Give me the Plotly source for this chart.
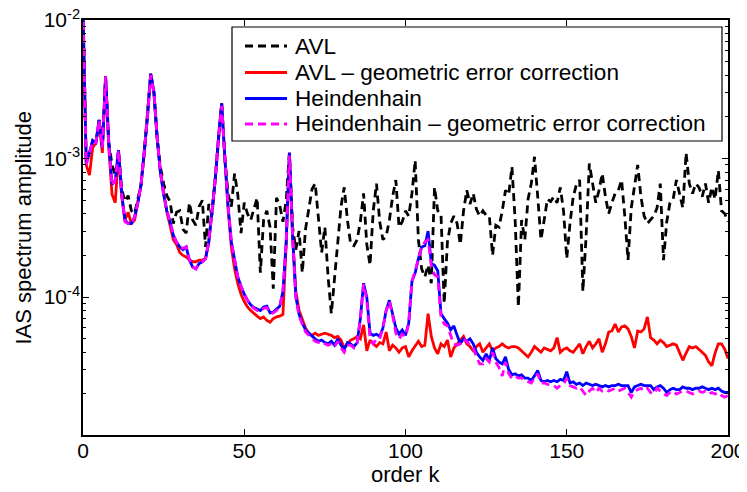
import plotly.graph_objects as go

# order k
order_k = list(range(0, 201))

# AVL (black dashed)
avl = [
    1.2e-2, 9.5e-4, 1.1e-3, 1.35e-3, 1.3e-3, 1.9e-3, 1.2e-3, 3.9e-3, 1.3e-3, 9.0e-4,
    7.5e-4, 1.15e-3, 6.0e-4, 4.9e-4, 5.4e-4, 4.2e-4, 4.0e-4, 5.0e-4, 6.5e-4, 1.1e-3,
    2.0e-3, 4.1e-3, 3.0e-3, 1.4e-3, 8.7e-4, 6.6e-4, 5.4e-4, 4.9e-4, 3.4e-4, 4.1e-4,
    4.2e-4, 3.1e-4, 2.9e-4, 4.8e-4, 3.6e-4, 3.3e-4, 4.5e-4, 5.0e-4, 2.3e-4, 4.7e-4,
    3.9e-4, 7.5e-4, 1.4e-3, 2.5e-3, 1.0e-3, 5.5e-4, 4.5e-4, 7.8e-4, 5.5e-4, 2.9e-4,
    4.8e-4, 4.0e-4, 3.6e-4, 4.4e-4, 5.2e-4, 1.5e-4, 3.6e-4, 4.2e-4, 3.2e-4, 1.15e-4,
    5.2e-4, 4.6e-4, 3.5e-4, 5.0e-4, 1.1e-3, 3.2e-4, 2.2e-4, 3.0e-4, 1.5e-4, 3.1e-4,
    4.5e-4, 6.0e-4, 6.6e-4, 3.5e-4, 2.1e-4, 3.2e-4, 1.4e-4, 7.6e-5, 1.4e-4, 2.4e-4,
    4.5e-4, 6.2e-4, 3.6e-4, 2.4e-4, 2.35e-4, 2.6e-4, 3.5e-4, 5.6e-4, 2.4e-4, 1.7e-4,
    4.2e-4, 6.6e-4, 3.5e-4, 2.6e-4, 2.75e-4, 3.6e-4, 5.3e-4, 7.0e-4, 3.2e-4, 3.5e-4,
    4.2e-4, 3.85e-4, 5.6e-4, 9.7e-4, 2.6e-4, 1.6e-4, 1.4e-4, 1.7e-4, 1.26e-4, 6.2e-4,
    4.2e-4, 4.0e-4, 9.0e-5, 2.5e-4, 3.4e-4, 3.85e-4, 3.4e-4, 2.4e-4, 4.2e-4, 5.9e-4,
    4.7e-4, 5.6e-4, 4.3e-4, 3.85e-4, 4.2e-4, 3.9e-4, 3.85e-4, 2.0e-4, 3.3e-4, 3.2e-4,
    4.2e-4, 5.9e-4, 5.5e-4, 8.7e-4, 3.6e-4, 8.5e-5, 3.6e-4, 2.6e-4, 5.1e-4, 6.6e-4,
    1.03e-3, 5.3e-4, 2.6e-4, 3.6e-4, 5.1e-4, 4.9e-4, 5.3e-4, 4.8e-4, 6.2e-4, 4.2e-4,
    1.9e-4, 3.4e-4, 5.3e-4, 6.5e-4, 7.0e-4, 1.1e-4, 2.75e-4, 9.2e-4, 6.6e-4, 4.8e-4,
    5.9e-4, 7.8e-4, 5.3e-4, 4.0e-4, 4.8e-4, 5.6e-4, 5.9e-4, 7.0e-4, 3.85e-4, 1.85e-4,
    4.4e-4, 6.6e-4, 9.0e-4, 5.3e-4, 3.85e-4, 3.4e-4, 3.6e-4, 3.85e-4, 4.4e-4, 6.6e-4,
    1.85e-4, 3.5e-4, 4.8e-4, 5.1e-4, 7.0e-4, 5.5e-4, 4.4e-4, 1.1e-3, 6.6e-4, 5.6e-4,
    6.6e-4, 6.2e-4, 5.3e-4, 6.6e-4, 4.8e-4, 6.2e-4, 5.1e-4, 8.2e-4, 4.2e-4, 4.0e-4,
    3.5e-4,
]

# AVL - geometric error correction (red)
avl_corr = [
    1.2e-2, 9.0e-4, 7.6e-4, 1.2e-3, 1.3e-3, 1.85e-3, 1.1e-3, 3.9e-3, 1.2e-3, 5.5e-4,
    4.8e-4, 1.1e-3, 5.3e-4, 3.6e-4, 4.1e-4, 3.4e-4, 3.6e-4, 4.8e-4, 6.5e-4, 1.1e-3,
    2.0e-3, 4.1e-3, 3.0e-3, 1.4e-3, 8.0e-4, 5.5e-4, 4.1e-4, 3.3e-4, 2.6e-4, 2.4e-4,
    2.1e-4, 2.0e-4, 1.95e-4, 1.85e-4, 1.8e-4, 1.8e-4, 1.85e-4, 1.85e-4, 1.9e-4, 2.5e-4,
    4.0e-4, 7.0e-4, 1.4e-3, 2.5e-3, 1.0e-3, 4.3e-4, 2.3e-4, 1.6e-4, 1.25e-4, 1.05e-4,
    9.3e-5, 8.5e-5, 8.0e-5, 7.6e-5, 7.3e-5, 7.0e-5, 7.2e-5, 6.8e-5, 6.6e-5, 7.0e-5,
    7.2e-5, 7.3e-5, 7.5e-5, 2.4e-4, 1.1e-3, 2.8e-4, 1.1e-4, 8.0e-5, 7.0e-5, 6.0e-5,
    5.5e-5, 5.3e-5, 5.5e-5, 5.3e-5, 5.4e-5, 5.5e-5, 5.4e-5, 5.3e-5, 5.1e-5, 5.2e-5,
    4.9e-5, 4.3e-5, 4.6e-5, 4.9e-5, 5.0e-5, 5.2e-5, 5.0e-5, 6.3e-5, 4.1e-5, 4.9e-5,
    4.6e-5, 4.4e-5, 4.7e-5, 4.6e-5, 5.6e-5, 4.1e-5, 4.5e-5, 4.3e-5, 4.0e-5, 4.3e-5,
    4.4e-5, 3.7e-5, 4.1e-5, 4.4e-5, 4.8e-5, 4.4e-5, 4.5e-5, 7.6e-5, 5.2e-5, 4.3e-5,
    3.9e-5, 4.6e-5, 4.4e-5, 4.9e-5, 3.7e-5, 4.3e-5, 4.6e-5, 4.9e-5, 5.2e-5, 4.6e-5,
    4.4e-5, 4.1e-5, 4.4e-5, 4.6e-5, 4.0e-5, 4.3e-5, 4.6e-5, 4.1e-5, 4.3e-5, 4.4e-5,
    4.6e-5, 4.4e-5, 4.3e-5, 4.4e-5, 4.4e-5, 4.3e-5, 4.1e-5, 3.9e-5, 3.7e-5, 4.0e-5,
    4.4e-5, 4.2e-5, 4.0e-5, 4.3e-5, 4.2e-5, 4.1e-5, 4.3e-5, 5.1e-5, 4.0e-5, 4.2e-5,
    4.3e-5, 4.1e-5, 4.0e-5, 4.3e-5, 4.6e-5, 3.9e-5, 4.4e-5, 4.8e-5, 4.3e-5, 4.6e-5,
    5.0e-5, 4.0e-5, 4.6e-5, 5.6e-5, 5.7e-5, 6.4e-5, 5.6e-5, 6.1e-5, 6.2e-5, 5.9e-5,
    5.2e-5, 4.3e-5, 5.7e-5, 5.6e-5, 5.9e-5, 7.2e-5, 5.1e-5, 4.9e-5, 4.6e-5, 4.9e-5,
    4.7e-5, 4.4e-5, 4.5e-5, 4.6e-5, 4.5e-5, 4.0e-5, 3.5e-5, 3.95e-5, 4.4e-5, 4.3e-5,
    4.4e-5, 4.2e-5, 4.0e-5, 3.8e-5, 3.4e-5, 3.2e-5, 3.95e-5, 4.6e-5, 4.6e-5, 4.2e-5,
    3.6e-5,
]

# Heindenhain (blue)
heid = [
    1.2e-2, 9.2e-4, 1.1e-3, 1.35e-3, 1.3e-3, 1.9e-3, 1.2e-3, 3.9e-3, 1.3e-3, 6.5e-4,
    7.0e-4, 1.15e-3, 5.6e-4, 3.6e-4, 3.4e-4, 3.4e-4, 3.8e-4, 4.8e-4, 6.5e-4, 1.1e-3,
    2.0e-3, 4.1e-3, 3.0e-3, 1.4e-3, 8.0e-4, 5.5e-4, 4.2e-4, 3.5e-4, 2.8e-4, 2.5e-4,
    2.3e-4, 2.2e-4, 2.3e-4, 1.85e-4, 1.65e-4, 1.6e-4, 1.75e-4, 1.8e-4, 1.9e-4, 2.5e-4,
    4.0e-4, 7.0e-4, 1.4e-3, 2.5e-3, 1.0e-3, 4.5e-4, 2.5e-4, 1.8e-4, 1.4e-4, 1.2e-4,
    1.05e-4, 9.5e-5, 8.8e-5, 8.4e-5, 8.2e-5, 8.0e-5, 8.5e-5, 8.6e-5, 7.7e-5, 7.8e-5,
    8.2e-5, 8.6e-5, 1.1e-4, 2.5e-4, 1.1e-3, 2.7e-4, 1.0e-4, 7.5e-5, 6.5e-5, 5.8e-5,
    5.5e-5, 5.2e-5, 5.0e-5, 4.8e-5, 4.9e-5, 4.7e-5, 4.6e-5, 4.8e-5, 4.5e-5, 5.0e-5,
    4.5e-5, 4.2e-5, 4.7e-5, 4.6e-5, 4.4e-5, 4.7e-5, 7.0e-5, 1.26e-4, 1.0e-4, 5.5e-5,
    5.3e-5, 5.4e-5, 5.2e-5, 6.0e-5, 8.0e-5, 9.5e-5, 7.5e-5, 6.0e-5, 5.4e-5, 5.8e-5,
    5.3e-5, 6.5e-5, 1.3e-4, 1.5e-4, 1.9e-4, 2.3e-4, 2.35e-4, 3.0e-4, 1.75e-4, 1.7e-4,
    1.55e-4, 7.6e-5, 7.0e-5, 6.5e-5, 5.8e-5, 6.2e-5, 5.3e-5, 4.6e-5, 5.0e-5, 4.8e-5,
    5.0e-5, 4.6e-5, 4.0e-5, 3.7e-5, 3.5e-5, 3.9e-5, 3.5e-5, 4.3e-5, 3.6e-5, 3.4e-5,
    3.3e-5, 3.7e-5, 3.0e-5, 2.75e-5, 2.8e-5, 2.7e-5, 2.75e-5, 2.6e-5, 2.6e-5, 2.5e-5,
    2.7e-5, 2.95e-5, 2.5e-5, 2.45e-5, 2.5e-5, 2.45e-5, 2.5e-5, 2.45e-5, 2.55e-5, 2.5e-5,
    2.9e-5, 2.4e-5, 2.45e-5, 2.35e-5, 2.4e-5, 2.3e-5, 2.4e-5, 2.35e-5, 2.3e-5, 2.35e-5,
    2.3e-5, 2.25e-5, 2.3e-5, 2.25e-5, 2.3e-5, 2.3e-5, 2.35e-5, 2.3e-5, 2.3e-5, 2.3e-5,
    2.05e-5, 2.25e-5, 2.3e-5, 2.35e-5, 2.3e-5, 2.3e-5, 2.3e-5, 2.15e-5, 2.25e-5, 2.3e-5,
    2.2e-5, 2.05e-5, 2.15e-5, 2.2e-5, 2.15e-5, 2.15e-5, 2.25e-5, 2.2e-5, 2.2e-5, 2.15e-5,
    2.2e-5, 2.2e-5, 2.25e-5, 2.2e-5, 2.15e-5, 2.2e-5, 2.15e-5, 2.2e-5, 2.1e-5, 2.05e-5,
    2.05e-5,
]

# Heindenhain - geometric error correction (magenta dashed)
heid_corr = [
    1.2e-2, 9.0e-4, 1.1e-3, 1.33e-3, 1.3e-3, 1.9e-3, 1.2e-3, 3.9e-3, 1.25e-3, 6.4e-4,
    7.0e-4, 1.15e-3, 5.5e-4, 3.5e-4, 3.4e-4, 3.35e-4, 3.8e-4, 4.8e-4, 6.5e-4, 1.1e-3,
    2.0e-3, 4.0e-3, 3.0e-3, 1.4e-3, 8.0e-4, 5.5e-4, 4.2e-4, 3.5e-4, 2.8e-4, 2.5e-4,
    2.3e-4, 2.25e-4, 2.3e-4, 1.85e-4, 1.65e-4, 1.6e-4, 1.75e-4, 1.8e-4, 1.9e-4, 2.5e-4,
    4.0e-4, 7.0e-4, 1.4e-3, 2.4e-3, 1.0e-3, 4.5e-4, 2.5e-4, 1.8e-4, 1.4e-4, 1.2e-4,
    1.05e-4, 9.5e-5, 8.7e-5, 8.3e-5, 8.0e-5, 7.9e-5, 8.3e-5, 8.4e-5, 7.6e-5, 7.7e-5,
    8.0e-5, 8.5e-5, 1.1e-4, 2.5e-4, 1.05e-3, 2.7e-4, 1.0e-4, 7.3e-5, 6.3e-5, 5.6e-5,
    5.3e-5, 5.0e-5, 4.8e-5, 4.7e-5, 4.8e-5, 4.6e-5, 4.5e-5, 4.6e-5, 4.4e-5, 4.8e-5,
    4.3e-5, 4.0e-5, 4.5e-5, 4.5e-5, 4.3e-5, 4.6e-5, 7.0e-5, 1.24e-4, 9.5e-5, 5.0e-5,
    4.6e-5, 5.0e-5, 5.0e-5, 6.0e-5, 8.0e-5, 9.3e-5, 7.4e-5, 5.5e-5, 5.0e-5, 5.4e-5,
    5.2e-5, 6.5e-5, 1.3e-4, 1.55e-4, 1.9e-4, 2.3e-4, 2.5e-4, 2.6e-4, 1.7e-4, 1.45e-4,
    1.4e-4, 7.2e-5, 6.4e-5, 6.2e-5, 5.3e-5, 4.6e-5, 4.5e-5, 4.6e-5, 5.0e-5, 4.8e-5,
    4.5e-5, 4.3e-5, 3.7e-5, 3.3e-5, 3.3e-5, 3.6e-5, 3.4e-5, 4.0e-5, 3.4e-5, 3.1e-5,
    2.7e-5, 3.4e-5, 2.8e-5, 2.6e-5, 2.7e-5, 2.6e-5, 2.6e-5, 2.5e-5, 2.45e-5, 2.4e-5,
    2.6e-5, 2.8e-5, 2.4e-5, 2.4e-5, 2.35e-5, 2.3e-5, 2.3e-5, 2.2e-5, 2.3e-5, 2.35e-5,
    2.6e-5, 2.3e-5, 2.25e-5, 2.2e-5, 2.25e-5, 2.1e-5, 1.95e-5, 2.1e-5, 2.2e-5, 2.05e-5,
    2.2e-5, 2.1e-5, 2.15e-5, 2.1e-5, 2.15e-5, 2.2e-5, 2.1e-5, 2.15e-5, 2.2e-5, 2.05e-5,
    1.9e-5, 2.1e-5, 2.15e-5, 2.2e-5, 2.1e-5, 2.2e-5, 2.05e-5, 2.0e-5, 2.2e-5, 2.1e-5,
    2.0e-5, 1.95e-5, 2.05e-5, 2.1e-5, 2.0e-5, 2.05e-5, 2.1e-5, 2.1e-5, 2.05e-5, 2.0e-5,
    2.05e-5, 2.1e-5, 2.05e-5, 2.1e-5, 2.0e-5, 2.05e-5, 2.0e-5, 2.05e-5, 1.95e-5, 1.9e-5,
    1.95e-5,
]

series_names = [
    "AVL",
    "AVL – geometric error correction",
    "Heindenhain",
    "Heindenhain – geometric error correction",
]
series_values = [avl, avl_corr, heid, heid_corr]
series_colors = ["#000000", "#ff0000", "#0000ff", "#ff00ff"]
series_dash = ["8px,5px", "solid", "solid", "8px,5px"]

x_ticks = [0, 50, 100, 150, 200]
y_ticks = [1e-4, 1e-3, 1e-2]
y_ticktext = ["10<sup>-4</sup>", "10<sup>-3</sup>", "10<sup>-2</sup>"]
y_minor = [m * d for d in (1e-5, 1e-4, 1e-3) for m in range(2, 10)]

FONT = "Liberation Sans, Arial, Helvetica, sans-serif"

fig = go.Figure()
for name, vals, col, dash in zip(series_names, series_values, series_colors, series_dash):
    fig.add_trace(go.Scatter(
        x=order_k, y=vals, mode="lines", name=name,
        line=dict(color=col, width=2.8, dash=dash),
        showlegend=False,
    ))

# The page body adds an 8px offset, so the figure is 8px smaller and margins shifted.
OFF = 8
W, H = 747 - OFF, 492 - OFF
# plot area in window pixels: x 83..728, y 20..435
PL, PR, PT, PB = 83, 728, 20, 435
def px(xp):
    return (xp - PL) / (PR - PL)
def py(yp):
    return (PB - yp) / (PB - PT)

shapes = []
annotations = []
# legend box
shapes.append(dict(type="rect", xref="paper", yref="paper",
                   x0=px(232), x1=px(722), y0=py(141), y1=py(27),
                   line=dict(color="black", width=1.2), fillcolor="white", layer="above"))
row_y = [46, 72.5, 98.5, 124]
for name, col, dash, ry in zip(series_names, series_colors, series_dash, row_y):
    shapes.append(dict(type="line", xref="paper", yref="paper",
                       x0=px(245), x1=px(287), y0=py(ry), y1=py(ry),
                       line=dict(color=col, width=2.8, dash=dash), layer="above"))
    annotations.append(dict(xref="paper", yref="paper", x=px(293), y=py(ry),
                            text=name, showarrow=False, xanchor="left", yanchor="middle",
                            font=dict(family=FONT, size=22.6, color="black")))

# axis titles
annotations.append(dict(xref="paper", yref="paper", x=0.5, y=py(474),
                        text="order k", showarrow=False, xanchor="center", yanchor="middle",
                        font=dict(family=FONT, size=22, color="black")))
annotations.append(dict(xref="paper", yref="paper", x=px(23), y=0.5,
                        text="IAS spectrum amplitude", showarrow=False, textangle=-90,
                        xanchor="center", yanchor="middle",
                        font=dict(family=FONT, size=22, color="black")))

fig.update_layout(
    width=W, height=H,
    margin=dict(l=PL - OFF, r=747 - PR, t=PT - OFF, b=492 - PB),
    paper_bgcolor="white", plot_bgcolor="white",
    font=dict(family=FONT, size=21, color="black"),
    shapes=shapes, annotations=annotations,
    showlegend=False,
)
fig.update_xaxes(
    range=[0, 200], tickmode="array", tickvals=x_ticks, ticks="inside", ticklen=6, tickwidth=1,
    tickcolor="black", showline=True, linecolor="black", linewidth=1.5,
    mirror="allticks", showgrid=False, zeroline=False, automargin=False,
    ticklabelstandoff=-4, ticklabeloverflow="allow",
    tickfont=dict(family=FONT, size=21, color="black"),
)
fig.update_yaxes(
    type="log", range=[-4.995, -1.9999], tickmode="array",
    tickvals=y_ticks, ticktext=y_ticktext,
    ticks="inside", ticklen=6, tickwidth=1, tickcolor="black",
    minor=dict(tickmode="array", tickvals=y_minor, ticks="inside", ticklen=3,
               tickcolor="black", showgrid=False),
    showline=True, linecolor="black", linewidth=1.5, mirror="allticks",
    showgrid=False, zeroline=False, automargin=False,
    ticklabelstandoff=-3, ticklabeloverflow="allow",
    tickfont=dict(family=FONT, size=21, color="black"),
)

fig.write_html("out.html")
